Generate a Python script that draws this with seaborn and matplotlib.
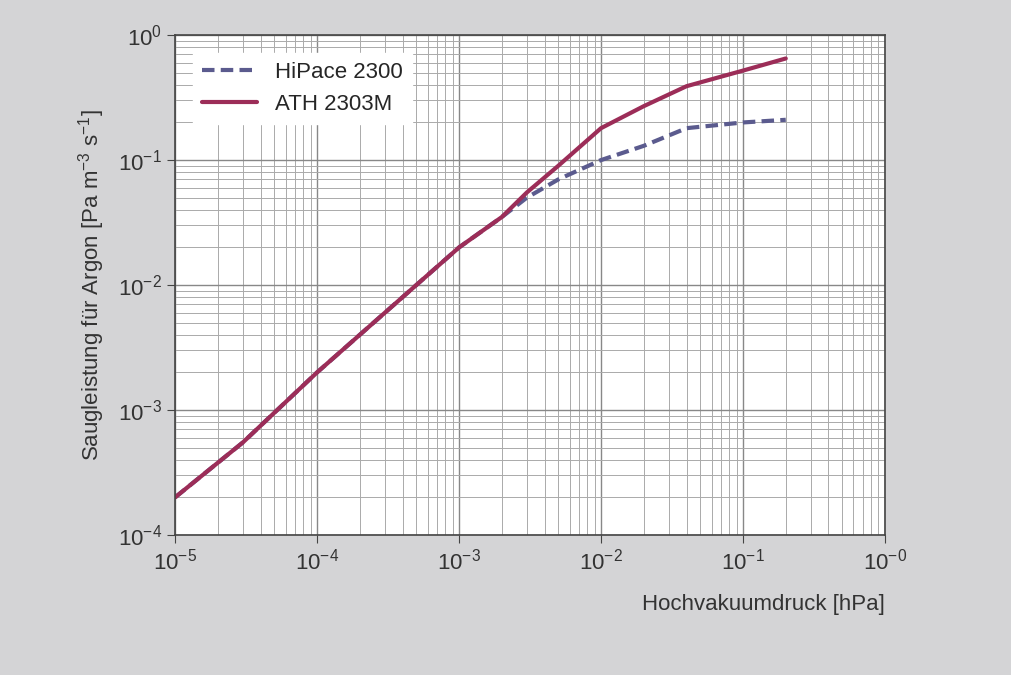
import matplotlib
matplotlib.use("Agg")
import matplotlib.pyplot as plt
import seaborn as sns
import pandas as pd
from matplotlib.ticker import LogLocator, FixedLocator

p_ath = [1e-5, 3e-5, 1e-4, 3e-4, 1e-3, 2e-3, 3e-3, 5e-3, 1e-2, 2e-2, 4e-2, 1e-1, 2e-1]
s_ath = [2e-4, 5.5e-4, 2e-3, 6e-3, 2e-2, 3.5e-2, 5.5e-2, 9e-2, 0.18, 0.27, 0.39, 0.52, 0.65]
p_hip = [1e-5, 3e-5, 1e-4, 3e-4, 1e-3, 2e-3, 3e-3, 5e-3, 1e-2, 2e-2, 4e-2, 1e-1, 2e-1]
s_hip = [2e-4, 5.5e-4, 2e-3, 6e-3, 2e-2, 3.5e-2, 5e-2, 7e-2, 0.10, 0.13, 0.18, 0.20, 0.21]

sns.set_style("white")
plt.rcParams['font.family'] = ['Liberation Sans', 'DejaVu Sans']
plt.rcParams['mathtext.fontset'] = 'custom'
plt.rcParams['mathtext.rm'] = 'Liberation Sans'
plt.rcParams['mathtext.default'] = 'regular'
fig = plt.figure(figsize=(10.12, 6.75), dpi=100, facecolor="#d4d4d6")
ax = fig.add_axes([0.173, 0.2074, 0.7015, 0.7406])
df = pd.concat([
    pd.DataFrame({"p": p_hip, "s": s_hip, "Pumpe": "HiPace 2300"}),
    pd.DataFrame({"p": p_ath, "s": s_ath, "Pumpe": "ATH 2303M"}),
])
ax.set_xscale("log"); ax.set_yscale("log")
sns.lineplot(data=df, x="p", y="s", hue="Pumpe", style="Pumpe",
             palette={"HiPace 2300": "#5b5b8e", "ATH 2303M": "#9c2d58"},
             dashes={"HiPace 2300": (3, 1.5), "ATH 2303M": ""},
             linewidth=3, ax=ax, sort=False)
ax.set_xlim(1e-5, 1); ax.set_ylim(1e-4, 1)
ax.xaxis.set_major_locator(FixedLocator([1e-5, 1e-4, 1e-3, 1e-2, 1e-1, 1]))
ax.yaxis.set_major_locator(FixedLocator([1e-4, 1e-3, 1e-2, 1e-1, 1]))
ax.xaxis.set_minor_locator(LogLocator(base=10, subs=range(2, 10), numticks=20))
ax.yaxis.set_minor_locator(LogLocator(base=10, subs=range(2, 10), numticks=20))
ax.set_xticklabels(["$10^{-5}$", "$10^{-4}$", "$10^{-3}$", "$10^{-2}$", "$10^{-1}$", "$10^{-0}$"])
ax.set_yticklabels(["$10^{-4}$", "$10^{-3}$", "$10^{-2}$", "$10^{-1}$", "$10^{0}$"])
ax.grid(True, which="major", color="#888888", linewidth=1.0)
ax.grid(True, which="minor", color="#aaaaaa", linewidth=0.7)
ax.set_axisbelow(True)
for s in ax.spines.values():
    s.set_color("#444444"); s.set_linewidth(1.2)
ax.tick_params(which="major", length=6, color="#444444", labelsize=16, labelcolor="#333333", direction="out", bottom=True, left=True)
ax.tick_params(which="minor", length=0)
ax.set_xlabel("Hochvakuumdruck [hPa]", fontsize=16, color="#333333", loc="right", labelpad=14)
ax.set_ylabel("Saugleistung für Argon [Pa m$^{-3}$ s$^{-1}$]", fontsize=16, color="#333333", labelpad=8)
leg = ax.legend(loc="upper left", fontsize=16, frameon=True, fancybox=False, framealpha=1,
                edgecolor="white", handlelength=2.5, borderaxespad=0.8)
leg.set_title(None)
fig.savefig("out.png", dpi=100, facecolor=fig.get_facecolor())
